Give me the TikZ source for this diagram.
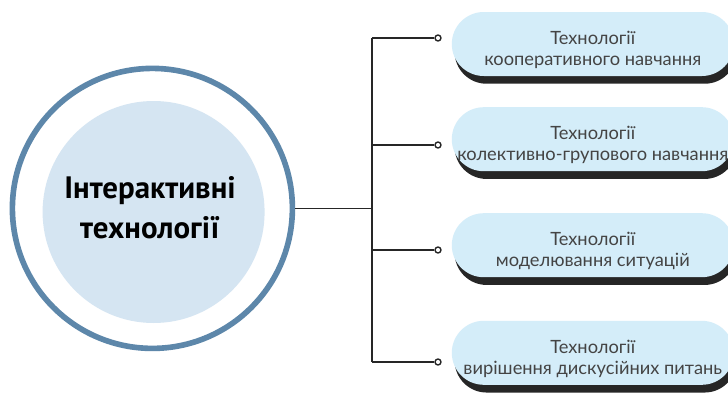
\documentclass[tikz,border=0pt]{standalone}
\usepackage{fontspec}
\setmainfont{Lato}
\newfontfamily\titlefont{PT Sans}
\usetikzlibrary{shadows}
\definecolor{ringblue}{HTML}{5D87AA}
\definecolor{coreblue}{HTML}{D5E5F2}
\definecolor{pillblue}{HTML}{D4EDF9}
\definecolor{inkgray}{HTML}{444444}

\begin{document}
\begin{tikzpicture}[%
            ring/.style={shape=circle, draw=ringblue, line width=4pt,
                minimum size=7cm, inner sep=0pt},
            core/.style={shape=circle, fill=coreblue, minimum size=5.55cm,
                inner sep=0pt},
            pill/.style={shape=rectangle, rounded corners=0.8cm, fill=pillblue,
                minimum width=7.05cm, minimum height=1.6cm,
                drop shadow={shadow xshift=2pt, shadow yshift=-5.5pt,
                    fill=black!85, opacity=1}},
            pilltext/.style={align=center, text=inkgray,
                font=\fontsize{13}{15}\selectfont},
            tip/.style={shape=circle, draw=black!85, fill=white,
                line width=1pt, inner sep=1.5pt},
            wire/.style={draw=black!85, line width=1.4pt}
    ]
    \clip (0,0) rectangle (18.2,9.8);
    \fill [white] (0,0) rectangle (18.2,9.8);

    \node [ring] (ring) at (3.81,4.59) {};
    \node [core] (core) at (3.84,4.5) {};
    \node [align=center, font=\titlefont\bfseries\fontsize{22}{28.5}\selectfont]
        (title) at (3.75,4.6) {Інтерактивні\\технології};

    \coordinate (top) at (9.3,8.85);
    \coordinate (bot) at (9.3,0.75);

    \draw [wire, line width=1pt] (ring.east) -- (ring.east -| top);
    \draw [wire] (top) -- (bot);

    \foreach \n/\y/\txt in
        {1/8.7/кооперативного навчання,
         2/6.32/колективно-групового навчання,
         3/3.67/моделювання ситуацій,
         4/0.98/вирішення дискусійних питань}
    {
        \node [pill] (p\n) at (14.82,\y) {};
        \node [pilltext] (l\n) at ([yshift=-0.15cm]p\n.center) {Технології\\\txt};
    }

    \foreach \n/\y in {1/8.85,2/6.175,3/3.55,4/0.75}
    {
        \node [tip] (d\n) at (10.95,\y) {};
        \draw [wire] (d\n.west) -- (d\n.west -| top);
    }
\end{tikzpicture}
\end{document}
